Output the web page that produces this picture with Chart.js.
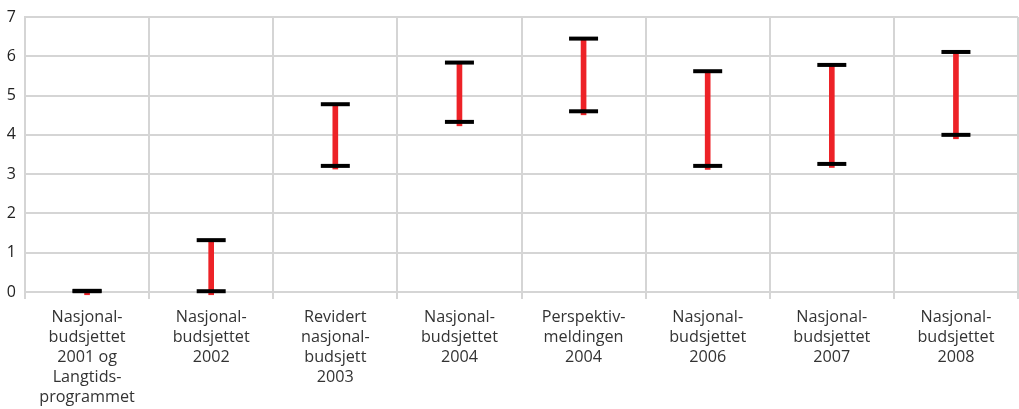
<!DOCTYPE html>
<html>
<head>
<meta charset="utf-8">
<script src="https://cdn.jsdelivr.net/npm/chart.js@4"></script>
<style>
  html, body { margin: 0; padding: 0; background: #ffffff; }
  #wrap { width: 1019px; height: 409px; }
</style>
</head>
<body>
<div id="wrap"><canvas id="c" width="1019" height="409"></canvas></div>
<script>
const categories = [
  ["Nasjonal-", "budsjettet", "2001 og", "Langtids-", "programmet"],
  ["Nasjonal-", "budsjettet", "2002"],
  ["Revidert", "nasjonal-", "budsjett", "2003"],
  ["Nasjonal-", "budsjettet", "2004"],
  ["Perspektiv-", "meldingen", "2004"],
  ["Nasjonal-", "budsjettet", "2006"],
  ["Nasjonal-", "budsjettet", "2007"],
  ["Nasjonal-", "budsjettet", "2008"]
];
const upperValues = [0.03, 1.32, 4.78, 5.84, 6.45, 5.62, 5.78, 6.11];
const lowerValues = [0.02, 0.02, 3.21, 4.33, 4.60, 3.21, 3.26, 4.00];
const redLowValues = [-0.07, -0.07, 3.13, 4.23, 4.51, 3.12, 3.17, 3.90];
const yTicks = [0, 1, 2, 3, 4, 5, 6, 7];

const red = '#ED2227';
const gridColor = '#d5d5d5';

new Chart(document.getElementById('c'), {
  type: 'bar',
  data: {
    labels: categories,
    datasets: [
      {
        type: 'line',
        data: upperValues,
        showLine: false,
        pointStyle: 'line',
        pointRadius: 14.5,
        pointHoverRadius: 14.5,
        pointBorderWidth: 4,
        pointBorderColor: '#000000',
        borderColor: '#000000',
        order: 1,
        clip: false
      },
      {
        type: 'line',
        data: lowerValues,
        showLine: false,
        pointStyle: 'line',
        pointRadius: 14.5,
        pointHoverRadius: 14.5,
        pointBorderWidth: 4,
        pointBorderColor: '#000000',
        borderColor: '#000000',
        order: 1,
        clip: false
      },
      {
        data: redLowValues.map((v, i) => [v, upperValues[i]]),
        backgroundColor: red,
        borderWidth: 0,
        barThickness: 5,
        order: 2,
        clip: false
      }
    ]
  },
  options: {
    responsive: false,
    animation: false,
    events: [],
    layout: { autoPadding: false, padding: { top: 17, right: 1, left: 0, bottom: 0 } },
    plugins: {
      legend: { display: false },
      tooltip: { enabled: false },
      title: { display: false }
    },
    scales: {
      x: {
        offset: true,
        grid: {
          offset: true,
          color: gridColor,
          lineWidth: 2,
          drawTicks: true,
          tickLength: 7
        },
        border: { display: true, color: gridColor, width: 2 },
        ticks: {
          autoSkip: false,
          maxRotation: 0,
          minRotation: 0,
          padding: 8,
          color: '#333333',
          font: { family: '"Open Sans", sans-serif', size: 16.2, lineHeight: 1.24 }
        },
        afterFit: (s) => { s.height = 117; s.paddingLeft = 0; s.paddingRight = 0; }
      },
      y: {
        min: 0,
        max: 7,
        afterBuildTicks: (s) => { s.ticks = yTicks.map(v => ({ value: v })); },
        grid: {
          color: gridColor,
          lineWidth: 2,
          drawTicks: false
        },
        border: { display: true, color: gridColor, width: 2 },
        ticks: {
          padding: 9,
          color: '#222222',
          font: { family: '"Open Sans", sans-serif', size: 16 }
        },
        afterFit: (s) => { s.width = 25; s.paddingTop = 0; s.paddingBottom = 0; }
      }
    }
  }
});
</script>
</body>
</html>
